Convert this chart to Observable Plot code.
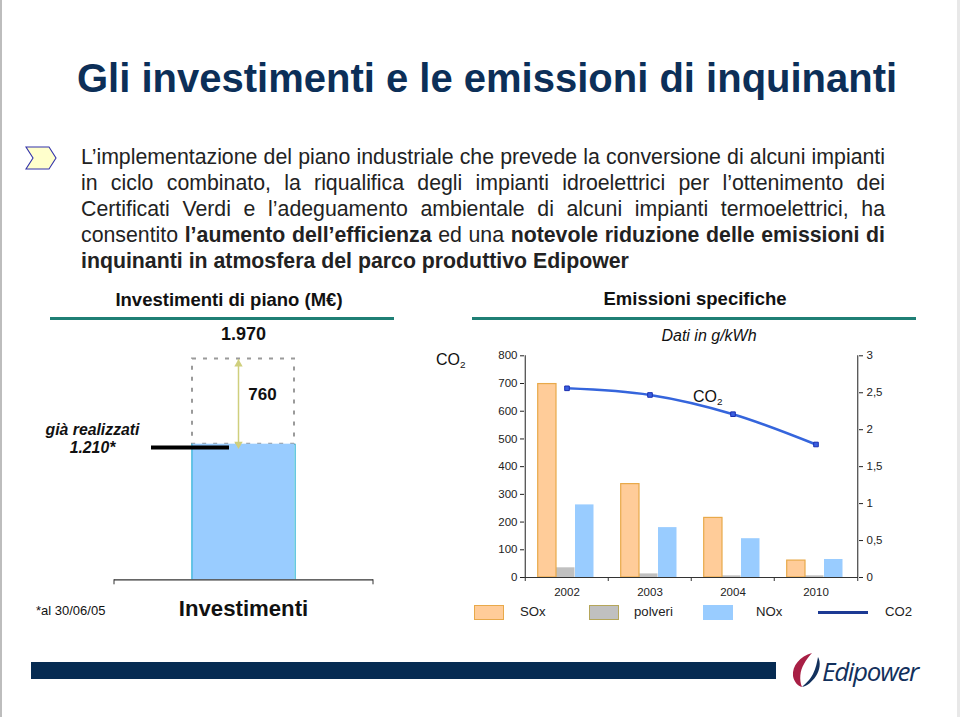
<!DOCTYPE html>
<html lang="it"><head><meta charset="utf-8">
<script src="https://cdn.jsdelivr.net/npm/d3@7"></script>
<script src="https://cdn.jsdelivr.net/npm/@observablehq/plot@0.6"></script>
<style>
html,body{margin:0;padding:0;background:#fff}
#page{position:relative;width:960px;height:717px;overflow:hidden;background:#fff;font-family:"Liberation Sans",Arial,sans-serif;color:#111}
.t{position:absolute;white-space:nowrap;line-height:1;transform:translateY(-50%)}
.c{transform:translate(-50%,-50%)}
.ln{position:absolute;left:81px;width:804px;height:24px;line-height:24px;font-size:21.3px;color:#222;text-align:justify;text-align-last:justify;white-space:nowrap}
.box{position:absolute}
sub{font-size:.62em;vertical-align:-.28em;line-height:0}
</style></head><body><div id="page">
<div class="box" style="left:0;top:0;width:2px;height:717px;background:#bdbdbd"></div>
<div class="box" style="left:957px;top:0;width:3px;height:717px;background:#e8e8e8"></div>
<div class="t" style="left:77px;top:78px;font-size:40px;font-weight:bold;color:#0c2f58" id="title">Gli investimenti e le emissioni di inquinanti</div>
<svg class="box" style="left:24px;top:144px" width="36" height="28"><polygon points="2,3 25,3 32,14 25,25 2,25 9,14" fill="#ffffcc" stroke="#3333aa" stroke-width="1.1"/></svg>
<div class="ln" style="top:145px">L’implementazione del piano industriale che prevede la conversione di alcuni impianti</div>
<div class="ln" style="top:171px">in ciclo combinato, la riqualifica degli impianti idroelettrici per l’ottenimento dei</div>
<div class="ln" style="top:197px">Certificati Verdi e l’adeguamento ambientale di alcuni impianti termoelettrici, ha</div>
<div class="ln" style="top:223px">consentito <b>l’aumento dell’efficienza</b> ed una <b>notevole riduzione delle emissioni di</b></div>
<div class="ln" style="top:249px;width:auto;text-align-last:left"><b>inquinanti in atmosfera del parco produttivo Edipower</b></div>
<div class="t c" style="left:229px;top:300px;font-size:18.5px;font-weight:bold">Investimenti di piano (M€)</div>
<div class="t c" style="left:695px;top:299px;font-size:18.5px;font-weight:bold">Emissioni specifiche</div>
<div class="box" style="left:50px;top:316.5px;width:344px;height:3px;background:#1f7f75"></div>
<div class="box" style="left:472px;top:317px;width:444px;height:3px;background:#1f7f75"></div>
<div class="t c" style="left:709px;top:336px;font-size:16px;font-style:italic">Dati in g/kWh</div>
<div class="t" style="left:436px;top:360px;font-size:16px">CO<sub>2</sub></div>
<div class="t" style="left:693px;top:397px;font-size:16px;z-index:5">CO<sub>2</sub></div>
<div class="t" style="left:36px;top:610px;font-size:13px">*al 30/06/05</div>
<div id="left" class="box" style="left:0;top:320px"></div>
<div id="right" class="box" style="left:430px;top:330px"></div>
<div id="legend"></div>
<div class="box" style="left:31px;top:662px;width:745px;height:17px;background:#062b52"></div>
<svg class="box" style="left:790px;top:650px" width="36" height="40"><path d="M22,3 C10,6 2,16 3,26 C4,32 8,36 12,37 C9,30 10,20 14,14 C16,10 19,6 22,3Z" fill="#a81f45"/><path d="M28,7 C31,12 30,20 26,26 C22,32 17,36 12,37 C16,33 20,30 23,24 C26,18 27,12 28,7Z" fill="#12305c"/></svg>
<div class="t" style="left:822px;top:671px;font-family:'Open Sans';font-style:italic;font-size:26px;letter-spacing:-1.3px;color:#12305c">Edipower</div>
</div>
<script>
const font = '"Liberation Sans",Arial,sans-serif';
// Left chart
const invCategory = ["Investimenti"];
const invDone = [1210];
const invPlan = [1970];
const invGap = [760];
const invTotalLabel = ["1.970"];
const invDoneLabel = ["già realizzati", "1.210*"];
// Right chart
const years = ["2002", "2003", "2004", "2010"];
const sox = [698, 337, 215, 61];
const polveri = [35, 13, 6, 6];
const nox = [262, 180, 140, 65];
const co2 = [2.56, 2.47, 2.21, 1.80];
const leftTicks = [0, 100, 200, 300, 400, 500, 600, 700, 800];
const rightTicks = [0, 0.5, 1, 1.5, 2, 2.5, 3];
const legendNames = ["SOx", "polveri", "NOx", "CO2"];

const toLeft = v => v * 800 / 3;
const axisColor = "#333";

const inv = invCategory.map((c, i) => ({c, done: invDone[i], plan: invPlan[i], gap: invGap[i]}));
const leftPlot = Plot.plot({
  width: 430, height: 300, marginLeft: 114, marginRight: 57, marginTop: 38.5, marginBottom: 40.7,
  style: {background: "transparent", fontFamily: font, overflow: "visible"},
  x: {domain: invCategory, padding: 0.431, axis: null},
  y: {domain: [0, 1970], axis: null},
  marks: [
    Plot.barY(inv, {x: "c", y1: "done", y2: "plan", fill: "none", stroke: "#9a9a9a", strokeWidth: 2, strokeDasharray: "4 7"}),
    Plot.barY(inv, {x: "c", y1: 0, y2: "done", fill: "#99ccff"}),
    Plot.ruleX(inv, {x: "c", y1: 0, y2: "done", dx: -51.6, stroke: "#35b4d8", strokeWidth: 1.3}),
    Plot.ruleX(inv, {x: "c", y1: 0, y2: "done", dx: 51.6, stroke: "#35b4d8", strokeWidth: 1.3}),
    Plot.link(inv, {x1: "c", x2: "c", y1: "done", y2: "plan", dx: -5, stroke: "#cfcf7d", strokeWidth: 1.5}),
    Plot.dot(inv, {x: "c", y: "plan", dx: -5, dy: 5, symbol: "triangle2", r: 4, fill: "#cfcf7d"}),
    Plot.dot(inv, {x: "c", y: "done", dx: -5, dy: 0, symbol: "triangle2", r: 4, rotate: 180, fill: "#cfcf7d"}),
    Plot.tickY(inv, {x: "c", y: "done", dy: 3.3, insetLeft: -41, insetRight: 65, stroke: "#000", strokeWidth: 4}),
    Plot.ruleY([0], {stroke: axisColor, strokeWidth: 1.2}),
    Plot.ruleX(inv, {x: "c", y1: 0, y2: 0, dx: -129.5, insetBottom: -5, stroke: axisColor}),
    Plot.ruleX(inv, {x: "c", y1: 0, y2: 0, dx: 129.5, insetBottom: -5, stroke: axisColor}),
    Plot.axisX({anchor: "bottom", tickSize: 0, tickPadding: 20, fontSize: 22.2, fontWeight: "bold", color: "#111", label: null}),
    Plot.text(invTotalLabel, {x: () => invCategory[0], y: () => invPlan[0], dy: -24.5, fontSize: 18, fontWeight: "bold", fill: "#111"}),
    Plot.text(invGap.map(String), {x: () => invCategory[0], y: () => (invDone[0] + invPlan[0]) / 2, dx: 19, dy: -7, fontSize: 17, fontWeight: "bold", fill: "#111"}),
    Plot.text(invDoneLabel.slice(0, 1), {x: () => invCategory[0], y: () => invDone[0], dx: -151, dy: -14.7, fontSize: 15.8, fontWeight: "bold", fontStyle: "italic", fill: "#111"}),
    Plot.text(invDoneLabel.slice(1), {x: () => invCategory[0], y: () => invDone[0], dx: -151, dy: 3.3, fontSize: 15.8, fontWeight: "bold", fontStyle: "italic", fill: "#111"})
  ]
});
document.getElementById("left").append(leftPlot);

const rows = years.map((year, i) => ({year, sox: sox[i], polveri: polveri[i], nox: nox[i], co2: toLeft(co2[i])}));
const rightPlot = Plot.plot({
  width: 500, height: 290, marginLeft: 94, marginRight: 72, marginTop: 25.3, marginBottom: 43,
  style: {background: "transparent", fontFamily: font, overflow: "visible"},
  x: {domain: years, padding: 0, axis: null},
  y: {domain: [0, 800], axis: null},
  marks: [
    Plot.barY(rows, {x: "year", y: "polveri", insetLeft: 31, insetRight: 33.5, fill: "#c0c0c0"}),
    Plot.barY(rows, {x: "year", y: "sox", insetLeft: 12.7, insetRight: 52, fill: "#ffcc99", stroke: "#e8a94a", strokeWidth: 1.2}),
    Plot.barY(rows, {x: "year", y: "nox", insetLeft: 50, insetRight: 14.5, fill: "#99ccff"}),
    Plot.ruleY([0], {stroke: axisColor, strokeWidth: 1.1}),
    Plot.ruleX(rows, {x: "year", y1: 0, y2: 0, dx: -41.75, insetBottom: -4, stroke: axisColor}),
    Plot.ruleX(rows.slice(-1), {x: "year", y1: 0, y2: 0, dx: 41.75, insetBottom: -4, stroke: axisColor}),
    Plot.ruleX(rows.slice(0, 1), {x: "year", y1: 0, y2: 800, dx: -41.75, stroke: axisColor, strokeWidth: 1.1}),
    Plot.ruleX(rows.slice(-1), {x: "year", y1: 0, y2: 800, dx: 41.75, stroke: axisColor, strokeWidth: 1.1}),
    Plot.axisX({anchor: "bottom", tickSize: 0, tickPadding: 10, fontSize: 11.5, color: "#222", label: null}),
    Plot.axisY({anchor: "left", ticks: leftTicks, tickSize: 4, tickPadding: 3, fontSize: 11.5, color: "#222", label: null, tickFormat: d => d}),
    Plot.axisY({anchor: "right", ticks: rightTicks.map(toLeft), tickSize: 4, tickPadding: 4, fontSize: 11.5, color: "#222", label: null,
      tickFormat: d => String(+(d * 3 / 800).toFixed(1)).replace(".", ",")}),
    Plot.line(rows, {x: "year", y: "co2", curve: "catmull-rom", stroke: "#3565dc", strokeWidth: 2.6}),
    Plot.dot(rows, {x: "year", y: "co2", symbol: "square", r: 2.6, fill: "#3a5fe0", stroke: "#1a2fb0", strokeWidth: 1})
  ]
});
document.getElementById("right").append(rightPlot);

// Legend
const legendSwatch = [
  {x: 474, fill: "#ffcc99", stroke: "#e8a94a"},
  {x: 589, fill: "#c0c0c0", stroke: "#b5a65a"},
  {x: 703, fill: "#99ccff", stroke: "none"}
];
const legendTextX = [520, 634, 756, 885];
const legend = document.getElementById("legend");
legendSwatch.forEach(s => {
  const d = document.createElement("div");
  d.className = "box";
  d.style.cssText = `left:${s.x}px;top:605px;width:28px;height:13px;background:${s.fill};border:1.2px solid ${s.stroke === "none" ? s.fill : s.stroke}`;
  legend.append(d);
});
const lineSwatch = document.createElement("div");
lineSwatch.className = "box";
lineSwatch.style.cssText = "left:818px;top:610.5px;width:50px;height:3px;background:#1c3a94";
legend.append(lineSwatch);
legendNames.forEach((n, i) => {
  const d = document.createElement("div");
  d.className = "t";
  d.style.cssText = `left:${legendTextX[i]}px;top:612px;font-size:13.2px;color:#222`;
  d.textContent = n;
  legend.append(d);
});
</script>
</body></html>
